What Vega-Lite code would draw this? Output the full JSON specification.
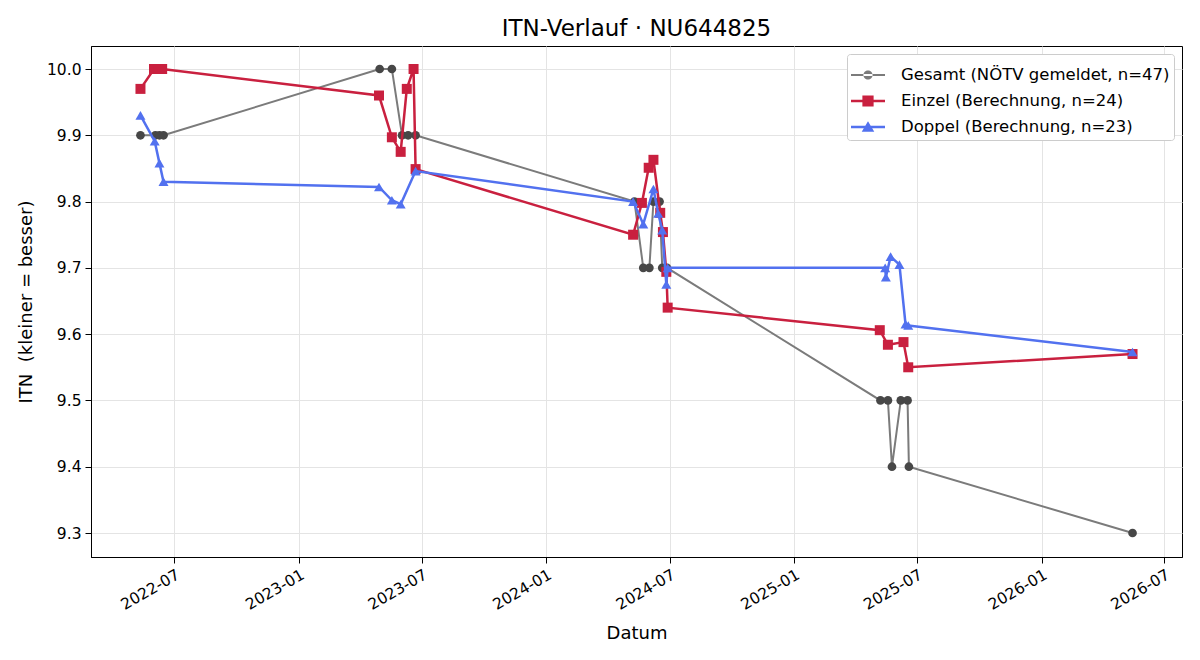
{
  "$schema": "https://vega.github.io/schema/vega-lite/v6.json",
  "width": 1091,
  "height": 511,
  "autosize": {"type": "none"},
  "padding": {"left": 91, "top": 46, "right": 18, "bottom": 103},
  "background": "white",
  "title": {
    "text": "ITN-Verlauf · NU644825",
    "font": "DejaVu Sans",
    "fontSize": 23,
    "fontWeight": "normal",
    "color": "black",
    "anchor": "middle",
    "offset": 5
  },
  "config": {
    "view": {"stroke": "black", "strokeWidth": 1},
    "axis": {
      "domainColor": "black",
      "tickColor": "black",
      "tickSize": 6,
      "labelFont": "DejaVu Sans",
      "labelFontSize": 15.5,
      "labelColor": "black",
      "titleFont": "DejaVu Sans",
      "titleFontSize": 18,
      "titleFontWeight": "normal",
      "titleColor": "black",
      "gridColor": "#e4e4e4",
      "gridWidth": 1
    },
    "legend": {
      "labelFont": "DejaVu Sans",
      "labelFontSize": 16.5,
      "labelColor": "black"
    }
  },
  "data": {
    "values": [
      {"s": "Gesamt (NÖTV gemeldet, n=47)", "d": "2022-05-12", "v": 9.9},
      {"s": "Gesamt (NÖTV gemeldet, n=47)", "d": "2022-06-03", "v": 9.9},
      {"s": "Gesamt (NÖTV gemeldet, n=47)", "d": "2022-06-09", "v": 9.9},
      {"s": "Gesamt (NÖTV gemeldet, n=47)", "d": "2022-06-15", "v": 9.9},
      {"s": "Gesamt (NÖTV gemeldet, n=47)", "d": "2023-04-30", "v": 10.0},
      {"s": "Gesamt (NÖTV gemeldet, n=47)", "d": "2023-05-18", "v": 10.0},
      {"s": "Gesamt (NÖTV gemeldet, n=47)", "d": "2023-06-02", "v": 9.9},
      {"s": "Gesamt (NÖTV gemeldet, n=47)", "d": "2023-06-11", "v": 9.9},
      {"s": "Gesamt (NÖTV gemeldet, n=47)", "d": "2023-06-22", "v": 9.9},
      {"s": "Gesamt (NÖTV gemeldet, n=47)", "d": "2024-05-10", "v": 9.8},
      {"s": "Gesamt (NÖTV gemeldet, n=47)", "d": "2024-05-23", "v": 9.7},
      {"s": "Gesamt (NÖTV gemeldet, n=47)", "d": "2024-06-01", "v": 9.7},
      {"s": "Gesamt (NÖTV gemeldet, n=47)", "d": "2024-06-07", "v": 9.8},
      {"s": "Gesamt (NÖTV gemeldet, n=47)", "d": "2024-06-16", "v": 9.8},
      {"s": "Gesamt (NÖTV gemeldet, n=47)", "d": "2024-06-20", "v": 9.7},
      {"s": "Gesamt (NÖTV gemeldet, n=47)", "d": "2024-06-27", "v": 9.7},
      {"s": "Gesamt (NÖTV gemeldet, n=47)", "d": "2025-05-08", "v": 9.5},
      {"s": "Gesamt (NÖTV gemeldet, n=47)", "d": "2025-05-19", "v": 9.5},
      {"s": "Gesamt (NÖTV gemeldet, n=47)", "d": "2025-05-25", "v": 9.4},
      {"s": "Gesamt (NÖTV gemeldet, n=47)", "d": "2025-06-07", "v": 9.5},
      {"s": "Gesamt (NÖTV gemeldet, n=47)", "d": "2025-06-17", "v": 9.5},
      {"s": "Gesamt (NÖTV gemeldet, n=47)", "d": "2025-06-19", "v": 9.4},
      {"s": "Gesamt (NÖTV gemeldet, n=47)", "d": "2026-05-15", "v": 9.3},

      {"s": "Einzel (Berechnung, n=24)", "d": "2022-05-12", "v": 9.97},
      {"s": "Einzel (Berechnung, n=24)", "d": "2022-06-01", "v": 10.0},
      {"s": "Einzel (Berechnung, n=24)", "d": "2022-06-07", "v": 10.0},
      {"s": "Einzel (Berechnung, n=24)", "d": "2022-06-13", "v": 10.0},
      {"s": "Einzel (Berechnung, n=24)", "d": "2023-04-29", "v": 9.96},
      {"s": "Einzel (Berechnung, n=24)", "d": "2023-05-18", "v": 9.897},
      {"s": "Einzel (Berechnung, n=24)", "d": "2023-05-31", "v": 9.875},
      {"s": "Einzel (Berechnung, n=24)", "d": "2023-06-09", "v": 9.97},
      {"s": "Einzel (Berechnung, n=24)", "d": "2023-06-19", "v": 10.0},
      {"s": "Einzel (Berechnung, n=24)", "d": "2023-06-22", "v": 9.849},
      {"s": "Einzel (Berechnung, n=24)", "d": "2024-05-08", "v": 9.75},
      {"s": "Einzel (Berechnung, n=24)", "d": "2024-05-21", "v": 9.798},
      {"s": "Einzel (Berechnung, n=24)", "d": "2024-05-31", "v": 9.851},
      {"s": "Einzel (Berechnung, n=24)", "d": "2024-06-07", "v": 9.863},
      {"s": "Einzel (Berechnung, n=24)", "d": "2024-06-17", "v": 9.783},
      {"s": "Einzel (Berechnung, n=24)", "d": "2024-06-21", "v": 9.754},
      {"s": "Einzel (Berechnung, n=24)", "d": "2024-06-26", "v": 9.694},
      {"s": "Einzel (Berechnung, n=24)", "d": "2024-06-28", "v": 9.64},
      {"s": "Einzel (Berechnung, n=24)", "d": "2025-05-07", "v": 9.606},
      {"s": "Einzel (Berechnung, n=24)", "d": "2025-05-19", "v": 9.584},
      {"s": "Einzel (Berechnung, n=24)", "d": "2025-06-11", "v": 9.588},
      {"s": "Einzel (Berechnung, n=24)", "d": "2025-06-18", "v": 9.55},
      {"s": "Einzel (Berechnung, n=24)", "d": "2026-05-15", "v": 9.57},

      {"s": "Doppel (Berechnung, n=23)", "d": "2022-05-12", "v": 9.93},
      {"s": "Doppel (Berechnung, n=23)", "d": "2022-06-02", "v": 9.891},
      {"s": "Doppel (Berechnung, n=23)", "d": "2022-06-09", "v": 9.858},
      {"s": "Doppel (Berechnung, n=23)", "d": "2022-06-15", "v": 9.83},
      {"s": "Doppel (Berechnung, n=23)", "d": "2023-04-29", "v": 9.822},
      {"s": "Doppel (Berechnung, n=23)", "d": "2023-05-18", "v": 9.802},
      {"s": "Doppel (Berechnung, n=23)", "d": "2023-05-31", "v": 9.796},
      {"s": "Doppel (Berechnung, n=23)", "d": "2023-06-22", "v": 9.846},
      {"s": "Doppel (Berechnung, n=23)", "d": "2024-05-08", "v": 9.8},
      {"s": "Doppel (Berechnung, n=23)", "d": "2024-05-23", "v": 9.766},
      {"s": "Doppel (Berechnung, n=23)", "d": "2024-06-07", "v": 9.819},
      {"s": "Doppel (Berechnung, n=23)", "d": "2024-06-14", "v": 9.782},
      {"s": "Doppel (Berechnung, n=23)", "d": "2024-06-20", "v": 9.757},
      {"s": "Doppel (Berechnung, n=23)", "d": "2024-06-26", "v": 9.675},
      {"s": "Doppel (Berechnung, n=23)", "d": "2024-06-28", "v": 9.7},
      {"s": "Doppel (Berechnung, n=23)", "d": "2025-05-15", "v": 9.7},
      {"s": "Doppel (Berechnung, n=23)", "d": "2025-05-16", "v": 9.686},
      {"s": "Doppel (Berechnung, n=23)", "d": "2025-05-23", "v": 9.717},
      {"s": "Doppel (Berechnung, n=23)", "d": "2025-06-05", "v": 9.705},
      {"s": "Doppel (Berechnung, n=23)", "d": "2025-06-14", "v": 9.615},
      {"s": "Doppel (Berechnung, n=23)", "d": "2025-06-18", "v": 9.613},
      {"s": "Doppel (Berechnung, n=23)", "d": "2026-05-15", "v": 9.573}
    ]
  },
  "encoding": {
    "x": {
      "field": "d",
      "type": "temporal",
      "title": "Datum",
      "scale": {"domain": [{"year": 2022, "month": 2, "date": 28}, {"year": 2026, "month": 7, "date": 27}]},
      "axis": {
        "values": [
          {"year": 2022, "month": 7, "date": 1},
          {"year": 2023, "month": 1, "date": 1},
          {"year": 2023, "month": 7, "date": 1},
          {"year": 2024, "month": 1, "date": 1},
          {"year": 2024, "month": 7, "date": 1},
          {"year": 2025, "month": 1, "date": 1},
          {"year": 2025, "month": 7, "date": 1},
          {"year": 2026, "month": 1, "date": 1},
          {"year": 2026, "month": 7, "date": 1}
        ],
        "format": "%Y-%m",
        "labelAngle": -30,
        "labelAlign": "right",
        "labelBaseline": "top",
        "labelPadding": 4,
        "titlePadding": 12
      }
    },
    "y": {
      "field": "v",
      "type": "quantitative",
      "title": "ITN \u00a0(kleiner = besser)",
      "scale": {"domain": [9.2638, 10.0347], "nice": false, "zero": false},
      "axis": {
        "values": [9.3, 9.4, 9.5, 9.6, 9.7, 9.8, 9.9, 10.0],
        "format": ".1f",
        "labelPadding": 4,
        "titlePadding": 11
      }
    }
  },
  "layer": [
    {
      "transform": [{"filter": "indexof(datum.s, 'Gesamt') === 0"}],
      "mark": {"type": "line", "color": "#7b7b7b", "strokeWidth": 2}
    },
    {
      "transform": [{"filter": "indexof(datum.s, 'Gesamt') === 0"}],
      "mark": {"type": "point", "shape": "circle", "filled": true, "color": "#474747", "opacity": 1, "size": 76}
    },
    {
      "transform": [{"filter": "indexof(datum.s, 'Einzel') === 0"}],
      "mark": {"type": "line", "color": "#c9203f", "strokeWidth": 2.5}
    },
    {
      "transform": [{"filter": "indexof(datum.s, 'Einzel') === 0"}],
      "mark": {"type": "point", "shape": "square", "filled": true, "color": "#c9203f", "opacity": 1, "size": 100}
    },
    {
      "transform": [{"filter": "indexof(datum.s, 'Doppel') === 0"}],
      "mark": {"type": "line", "color": "#5271ef", "strokeWidth": 2.5}
    },
    {
      "transform": [{"filter": "indexof(datum.s, 'Doppel') === 0"}],
      "mark": {"type": "point", "shape": "triangle-up", "filled": true, "color": "#5271ef", "opacity": 1, "size": 100}
    },
    {
      "transform": [{"filter": "datum.v > 100"}],
      "mark": {"type": "point", "filled": true, "opacity": 1},
      "encoding": {
        "color": {
          "field": "s",
          "type": "nominal",
          "scale": {
            "domain": ["Gesamt (NÖTV gemeldet, n=47)", "Einzel (Berechnung, n=24)", "Doppel (Berechnung, n=23)"],
            "range": ["#7b7b7b", "#c9203f", "#5271ef"]
          },
          "legend": {
            "title": null,
            "orient": "top-right",
            "offset": 8,
            "padding": 4,
            "rowPadding": 0,
            "labelOffset": 16,
            "labelLimit": 0,
            "symbolSize": 1156,
            "symbolOpacity": 1,
            "symbolStrokeWidth": 0,
            "strokeColor": "#cccccc",
            "fillColor": "white",
            "cornerRadius": 3
          }
        },
        "shape": {
          "field": "s",
          "type": "nominal",
          "scale": {
            "domain": ["Gesamt (NÖTV gemeldet, n=47)", "Einzel (Berechnung, n=24)", "Doppel (Berechnung, n=23)"],
            "range": [
              "M-1,-0.06H1V0.06H-1Z M-0.27,0A0.27,0.27 0 1,0 0.27,0A0.27,0.27 0 1,0 -0.27,0Z",
              "M-1,-0.072H1V0.072H-1Z M-0.33,-0.33H0.33V0.33H-0.33Z",
              "M-1,-0.072H1V0.072H-1Z M0,-0.34L0.37,0.28H-0.37Z"
            ]
          },
          "legend": {"title": null}
        }
      }
    }
  ]
}
